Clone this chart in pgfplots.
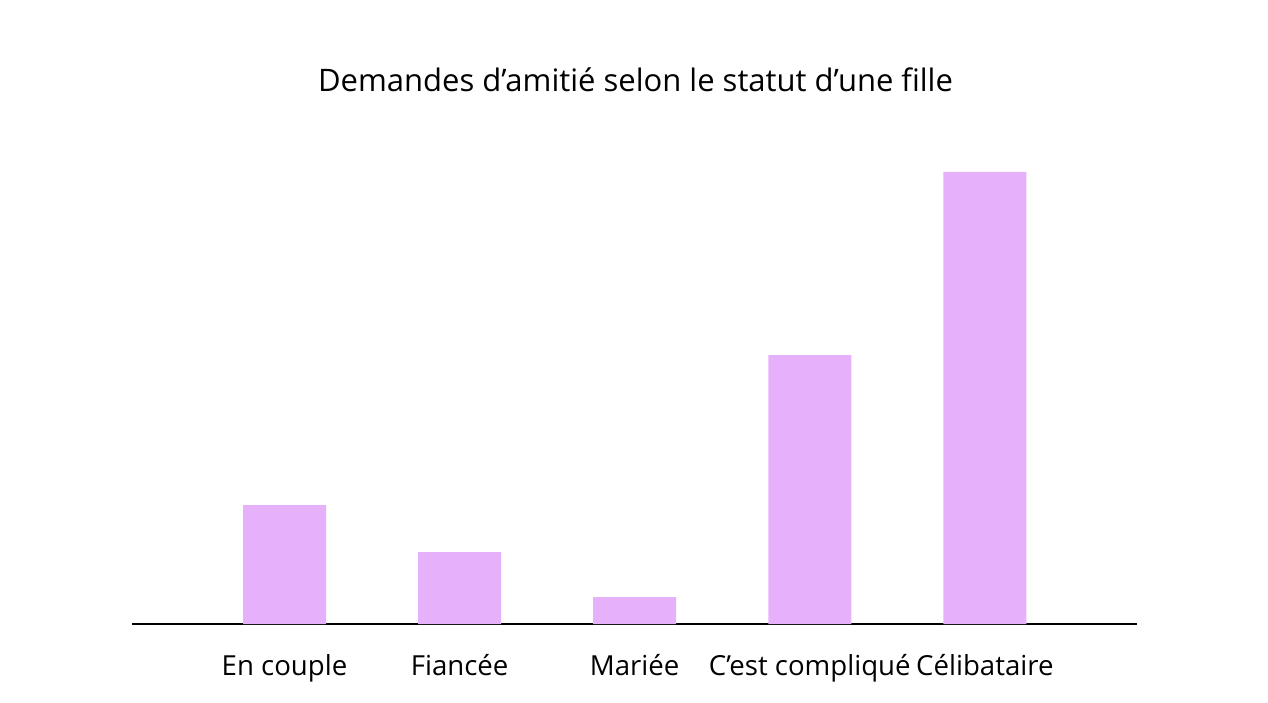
\documentclass[border=0pt]{standalone}
\usepackage{fontspec}
\setmainfont{Open Sans}[Ligatures=NoCommon]
\usepackage{pgfplots}
\pgfplotsset{compat=1.18}
\definecolor{barviolet}{RGB}{230,177,250}
\begin{document}
\begin{tikzpicture}
\path[use as bounding box] (0,0) rectangle (634pt,351pt);
\begin{axis}[
  at={(66pt,39pt)}, anchor=south west,
  scale only axis,
  width=502.5pt, height=240pt,
  xmin=-0.871, xmax=4.869,
  ymin=0, ymax=480,
  axis x line*=bottom,
  axis y line=none,
  x axis line style={line width=0.7pt, black},
  xtick=data,
  xticklabels={En couple, Fiancée, Mariée, C’est compliqué, Célibataire},
  major tick length=0pt,
  xticklabel style={anchor=base, yshift=-25.5pt, font=\fontsize{13.8}{16}\selectfont},
  ytick=\empty,
  clip=false,
]
\addplot[ybar, bar width=41.5pt, fill=barviolet, draw=none] coordinates {
  (0,119) (1,72) (2,27) (3,269) (4,452)
};
\end{axis}
\node[anchor=base, font=\fontsize{15.5}{18}\selectfont] at (317.75pt,305pt) {Demandes d’amitié selon le statut d’une fille};
\end{tikzpicture}
\end{document}
